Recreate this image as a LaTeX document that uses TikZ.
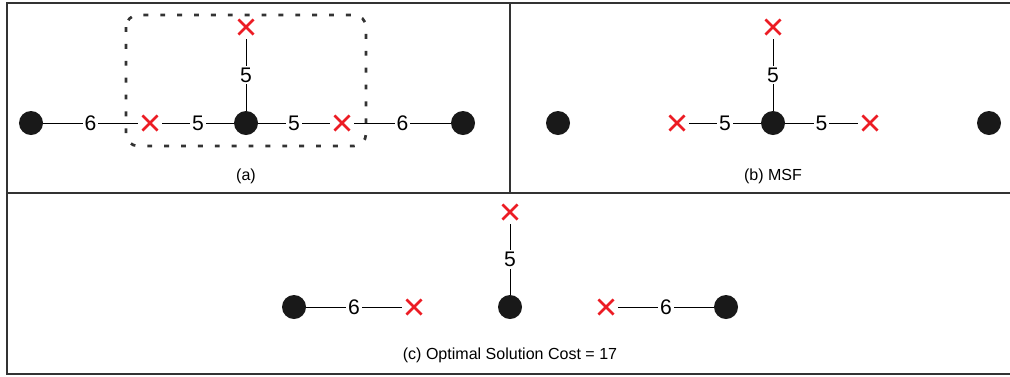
\documentclass[tikz,border=0pt]{standalone}
\usepackage{fontspec}
\setmainfont{Liberation Sans}
\definecolor{termred}{RGB}{236,28,36}

\begin{document}
\begin{tikzpicture}[x=0.025cm, y=-0.025cm,
    vert/.style={circle, fill=black!90, minimum size=0.6cm, inner sep=0pt},
    term/.style={circle, minimum size=0.6cm, inner sep=0pt,
        path picture={\draw[termred, line width=1.8pt]
            ([shift={(-0.19cm,-0.19cm)}]path picture bounding box.center) -- ++(0.38cm,0.38cm)
            ([shift={(-0.19cm,0.19cm)}]path picture bounding box.center) -- ++(0.38cm,-0.38cm);}},
    wt/.style={fill=white, inner sep=1.5pt, font=\fontsize{15}{15}\selectfont},
    captext/.style={font=\fontsize{11.4}{12}\selectfont},
    edge/.style={line width=0.6pt}]
\useasboundingbox (0,0) rectangle (1010,376);
% frame
\draw[line width=0.8pt, black!80] (1012,3) -- (7,3) -- (7,374) -- (1012,374);
\draw[line width=0.8pt, black!80] (7,193) -- (1012,193);
\draw[line width=0.8pt, black!80] (510,3) -- (510,193);

% (a) instance
\node[vert] (a1) at (31,123) {};
\node[vert] (a2) at (246,123) {};
\node[vert] (a3) at (463,123) {};
\node[term] (at1) at (150,123) {};
\node[term] (at2) at (342,123) {};
\node[term] (at3) at (246,27) {};
\draw[edge] (a1) -- node[wt] {6} (at1);
\draw[edge] (at1) -- node[wt] {5} (a2);
\draw[edge] (a2) -- node[wt] {5} (at2);
\draw[edge] (at2) -- node[wt] {6} (a3);
\draw[edge] (a2) -- node[wt] {5} (at3);
\draw[line width=1.9pt, black!80, dash pattern=on 3.5pt off 8.5pt, rounded corners=0.3cm]
    (126,15) rectangle (366,146);
\node[captext] (capa) at (246,176) {(a)};

% (b) MSF
\node[vert] (b1) at (558,123) {};
\node[vert] (b2) at (773,123) {};
\node[vert] (b3) at (989,123) {};
\node[term] (bt1) at (677,123) {};
\node[term] (bt2) at (870,123) {};
\node[term] (bt3) at (773,27) {};
\draw[edge] (bt1) -- node[wt] {5} (b2);
\draw[edge] (b2) -- node[wt] {5} (bt2);
\draw[edge] (b2) -- node[wt] {5} (bt3);
\node[captext] (capb) at (773,176) {(b) MSF};

% (c) optimal solution
\node[vert] (c1) at (294,307) {};
\node[vert] (c2) at (510,307) {};
\node[vert] (c3) at (726,307) {};
\node[term] (ct1) at (414,307) {};
\node[term] (ct2) at (606,307) {};
\node[term] (ct3) at (510,212) {};
\draw[edge] (c1) -- node[wt] {6} (ct1);
\draw[edge] (ct2) -- node[wt] {6} (c3);
\draw[edge] (c2) -- node[wt] {5} (ct3);
\node[captext] (capc) at (510,355) {(c) Optimal Solution Cost = 17};
\end{tikzpicture}
\end{document}
